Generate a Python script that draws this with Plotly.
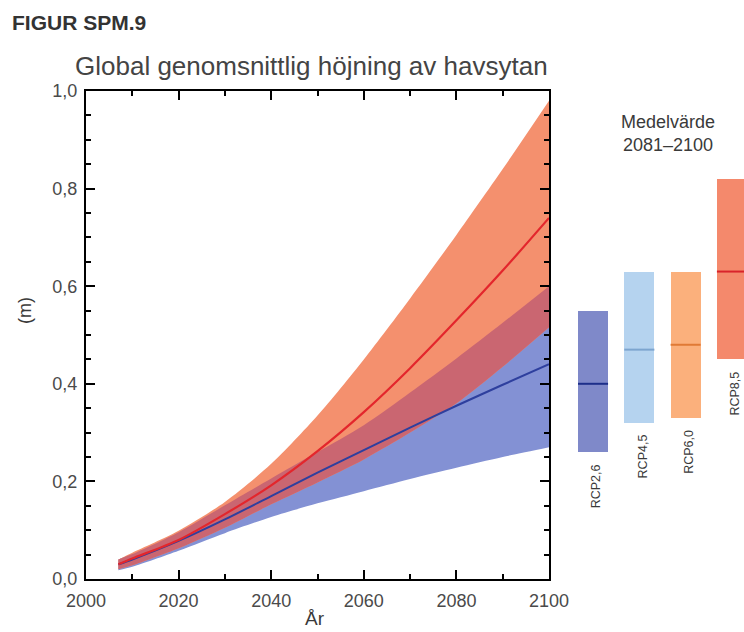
import plotly.graph_objects as go
import numpy as np

# ---- data ----
years = [2007, 2010, 2020, 2030, 2040, 2050, 2060, 2070, 2080, 2090, 2100]

rcp85_mean = [0.030, 0.042, 0.080, 0.133, 0.192, 0.262, 0.342, 0.432, 0.530, 0.632, 0.740]
rcp85_low  = [0.020, 0.028, 0.063, 0.105, 0.153, 0.198, 0.245, 0.300, 0.360, 0.435, 0.516]
rcp85_high = [0.040, 0.054, 0.099, 0.158, 0.236, 0.335, 0.450, 0.575, 0.705, 0.840, 0.980]

rcp26_mean = [0.030, 0.040, 0.078, 0.122, 0.170, 0.218, 0.264, 0.310, 0.355, 0.398, 0.440]
rcp26_low  = [0.018, 0.025, 0.058, 0.094, 0.127, 0.155, 0.180, 0.205, 0.228, 0.250, 0.270]
rcp26_high = [0.040, 0.051, 0.096, 0.151, 0.206, 0.260, 0.315, 0.382, 0.452, 0.525, 0.600]

scen_labels = ["RCP2,6", "RCP4,5", "RCP6,0", "RCP8,5"]
avg_mean = [0.40, 0.47, 0.48, 0.63]
avg_low  = [0.26, 0.32, 0.33, 0.45]
avg_high = [0.55, 0.63, 0.63, 0.82]

x_ticks = [2000, 2020, 2040, 2060, 2080, 2100]
y_ticks = [0.0, 0.2, 0.4, 0.6, 0.8, 1.0]

# ---- styles ----
band85 = "#F4906E"
band26 = "#8391D4"
band_ov = "#CA6671"
line85 = "#E3262C"
line26 = "#2E3F9E"
bar_fill = ["#7F89C9", "#B5D3EF", "#FBB07C", "#F4896C"]
bar_line = ["#1D2F8A", "#7DA5CF", "#E07A36", "#D9232B"]
FONT = "Liberation Sans, Arial, sans-serif"
TXT = "#3a3a3a"

W, H = 744, 632
ML, MT, MB = 86, 91, 53
PW, PH = W - ML, H - MT - MB   # plot area spans full right side


def px_x(x):
    return (x - ML) / PW


def px_y(y):
    return (H - MB - y) / PH


fig = go.Figure()


def band(lo, hi, color):
    fig.add_trace(go.Scatter(x=years, y=lo, mode="lines",
                             line=dict(width=0, shape="spline", smoothing=0.8),
                             hoverinfo="skip", showlegend=False))
    fig.add_trace(go.Scatter(x=years, y=hi, mode="lines",
                             line=dict(width=0, shape="spline", smoothing=0.8),
                             fill="tonexty", fillcolor=color, hoverinfo="skip", showlegend=False))


band(rcp26_low, rcp26_high, band26)
band(rcp85_low, rcp85_high, band85)
ov_lo = list(np.maximum(rcp85_low, rcp26_low))
ov_hi = list(np.minimum(rcp85_high, rcp26_high))
band(ov_lo, ov_hi, band_ov)

fig.add_trace(go.Scatter(x=years, y=rcp26_mean, mode="lines",
                         line=dict(color=line26, width=2, shape="spline", smoothing=0.8),
                         showlegend=False))
fig.add_trace(go.Scatter(x=years, y=rcp85_mean, mode="lines",
                         line=dict(color=line85, width=2.2, shape="spline", smoothing=0.8),
                         showlegend=False))

# ---- right panel bars (2081-2100 means) ----
pos = list(range(len(scen_labels)))
bw = 0.65
fig.add_trace(go.Bar(x=pos, y=[h - l for h, l in zip(avg_high, avg_low)], base=avg_low,
                     width=bw, marker=dict(color=bar_fill, line=dict(width=0)),
                     xaxis="x2", yaxis="y2", showlegend=False, hoverinfo="skip"))
for i in pos:
    fig.add_trace(go.Scatter(x=[i - bw / 2, i + bw / 2], y=[avg_mean[i], avg_mean[i]], mode="lines",
                             line=dict(color=bar_line[i], width=2), xaxis="x2", yaxis="y2",
                             showlegend=False, hoverinfo="skip"))
    fig.add_annotation(x=i + 0.07, y=avg_low[i], xref="x2", yref="y2", text=scen_labels[i],
                       textangle=-90, showarrow=False, xanchor="center", yanchor="top", yshift=-10,
                       font=dict(family=FONT, size=12.5, color=TXT))

fig.add_annotation(x=px_x(668), y=px_y(133), xref="paper", yref="paper",
                   text="Medelvärde<br>2081–2100",
                   showarrow=False, xanchor="center", yanchor="middle",
                   font=dict(family=FONT, size=18, color=TXT))

axis_common = dict(showline=True, linecolor="black", linewidth=2, mirror="ticks",
                   ticks="inside", ticklen=9, tickwidth=2, tickcolor="black",
                   showgrid=False, zeroline=False, automargin=False,
                   tickfont=dict(family=FONT, size=18, color="#4a4a4a"))

fig.update_layout(
    width=W, height=H,
    margin=dict(l=ML, r=0, t=MT, b=MB, autoexpand=False),
    paper_bgcolor="white", plot_bgcolor="white",
    separators=",.",
    font=dict(family=FONT, color=TXT),
    xaxis=dict(domain=[0, 463 / PW], range=[2000, 2100], tickvals=x_ticks, ticklabelstandoff=4,
               minor=dict(dtick=10, tick0=2000, ticks="inside", ticklen=5, tickwidth=2,
                          tickcolor="black"),
               **axis_common),
    yaxis=dict(range=[0, 1], tickvals=y_ticks, tickformat=".1f", ticklabelstandoff=3,
               minor=dict(dtick=0.05, tick0=0, ticks="inside", ticklen=5, tickwidth=2,
                          tickcolor="black"),
               **axis_common),
    xaxis2=dict(domain=[(578 - ML) / PW, 1.0], range=[-0.324, 3.26], visible=False, anchor="y2"),
    yaxis2=dict(range=[0, 1], visible=False, anchor="x2", domain=[0, 1]),
    bargap=0,
)

fig.add_annotation(x=px_x(10), y=px_y(23), xref="paper", yref="paper", text="<b>FIGUR SPM.9</b>",
                   showarrow=False, xanchor="left", yanchor="middle",
                   font=dict(family=FONT, size=21, color="#333"))
fig.add_annotation(x=px_x(311), y=px_y(66), xref="paper", yref="paper",
                   text="Global genomsnittlig höjning av havsytan",
                   showarrow=False, xanchor="center", yanchor="middle",
                   font=dict(family=FONT, size=26, color="#444"))
fig.add_annotation(x=px_x(25), y=px_y(311), xref="paper", yref="paper", text="(m)",
                   textangle=-90, showarrow=False, xanchor="center", yanchor="middle",
                   font=dict(family=FONT, size=18, color=TXT))
fig.add_annotation(x=px_x(315), y=px_y(618), xref="paper", yref="paper", text="År",
                   showarrow=False, xanchor="center", yanchor="middle",
                   font=dict(family=FONT, size=19, color=TXT))

fig.write_html("out.html", config={"responsive": False, "displayModeBar": False},
               post_script="document.body.style.margin='0px';")
